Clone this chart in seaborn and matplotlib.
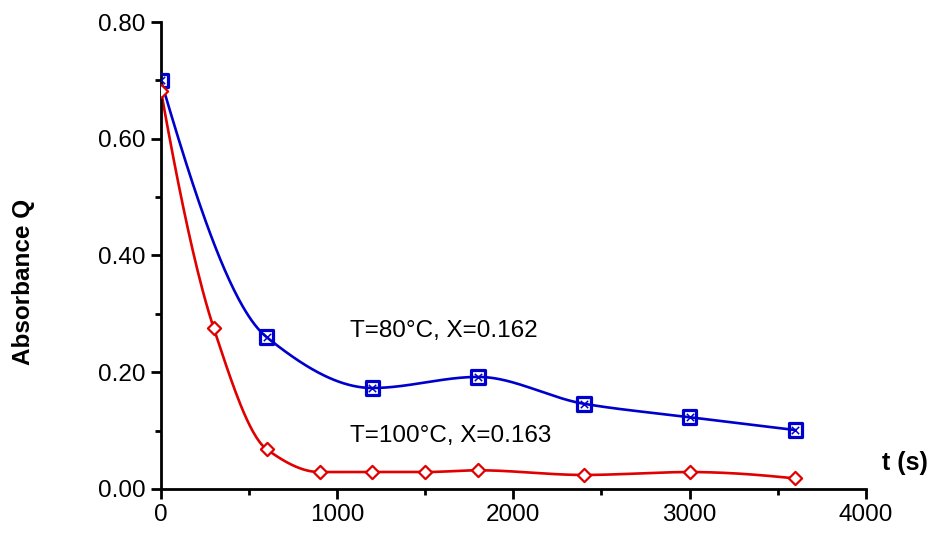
import numpy as np
import pandas as pd
import matplotlib
matplotlib.use("Agg")
import matplotlib.pyplot as plt
import seaborn as sns
from matplotlib.ticker import MultipleLocator, FormatStrFormatter

# data
t_80 = [0, 600, 1200, 1800, 2400, 3000, 3600]
q_80 = [0.700, 0.260, 0.173, 0.192, 0.146, 0.123, 0.101]
t_100 = [0, 300, 600, 900, 1200, 1500, 1800, 2400, 3000, 3600]
q_100 = [0.682, 0.275, 0.068, 0.029, 0.029, 0.029, 0.032, 0.024, 0.029, 0.018]
label_80 = "T=80°C, X=0.162"
label_100 = "T=100°C, X=0.163"


def pchip(x, y, xs):
    x = np.asarray(x, float); y = np.asarray(y, float)
    h = np.diff(x); d = np.diff(y) / h
    n = len(x); m = np.zeros(n)
    for k in range(1, n - 1):
        if d[k - 1] * d[k] > 0:
            w1 = 2 * h[k] + h[k - 1]; w2 = h[k] + 2 * h[k - 1]
            m[k] = (w1 + w2) / (w1 / d[k - 1] + w2 / d[k])
    m[0] = ((2 * h[0] + h[1]) * d[0] - h[0] * d[1]) / (h[0] + h[1])
    if np.sign(m[0]) != np.sign(d[0]): m[0] = 0
    m[-1] = ((2 * h[-1] + h[-2]) * d[-1] - h[-1] * d[-2]) / (h[-1] + h[-2])
    if np.sign(m[-1]) != np.sign(d[-1]): m[-1] = 0
    idx = np.clip(np.searchsorted(x, xs) - 1, 0, n - 2)
    tt = (xs - x[idx]) / h[idx]
    h00 = 2 * tt**3 - 3 * tt**2 + 1; h10 = tt**3 - 2 * tt**2 + tt
    h01 = -2 * tt**3 + 3 * tt**2; h11 = tt**3 - tt**2
    return h00 * y[idx] + h10 * h[idx] * m[idx] + h01 * y[idx + 1] + h11 * h[idx] * m[idx + 1]


plt.rcParams['font.family'] = ['Liberation Sans', 'DejaVu Sans']
fig = plt.figure(figsize=(9.37, 5.33), dpi=100)
ax = fig.add_axes([0.1718, 0.0826, 0.7522, 0.8761])

blue = "#0000CC"
red = "#E00000"

xs80 = np.linspace(t_80[0], t_80[-1], 400)
xs100 = np.linspace(t_100[0], t_100[-1], 400)
sns.lineplot(x=xs80, y=pchip(t_80, q_80, xs80), ax=ax, color=blue, lw=1.9)
sns.lineplot(x=xs100, y=pchip(t_100, q_100, xs100), ax=ax, color=red, lw=1.9)

ax.scatter(t_80, q_80, marker='s', s=95, facecolor='none', edgecolor=blue, linewidth=2.3, zorder=5)
ax.scatter(t_80, q_80, marker='x', s=28, color=blue, linewidth=1.1, zorder=6)
ax.scatter(t_100, q_100, marker='D', s=45, facecolor='white', edgecolor=red, linewidth=1.6, zorder=5)

ax.set_xlim(0, 4000)
ax.set_ylim(0, 0.8)
ax.xaxis.set_major_locator(MultipleLocator(1000))
ax.xaxis.set_minor_locator(MultipleLocator(500))
ax.yaxis.set_major_locator(MultipleLocator(0.2))
ax.yaxis.set_minor_locator(MultipleLocator(0.1))
ax.yaxis.set_major_formatter(FormatStrFormatter('%.2f'))
for s in ['top', 'right']:
    ax.spines[s].set_visible(False)
for s in ['left', 'bottom']:
    ax.spines[s].set_linewidth(2.0)
ax.tick_params(which='major', direction='out', length=7, width=2.0, labelsize=17.5, pad=4)
ax.tick_params(which='minor', direction='out', length=4, width=2.0)
ax.set_xlabel("")
ax.set_ylabel("Absorbance Q", fontsize=17.5, fontweight='bold', va='center')
ax.yaxis.set_label_coords((23 - 161) / 705, (489 - 282) / 467)

fig.text(905 / 937, 1 - 463 / 533, "t (s)", fontsize=18, fontweight='bold', ha='center', va='center')
ax.text(1070, 0.2700, label_80, fontsize=17.5, ha='left', va='center')
ax.text(1070, 0.0900, label_100, fontsize=17.5, ha='left', va='center')

fig.savefig("out.png", dpi=100)
